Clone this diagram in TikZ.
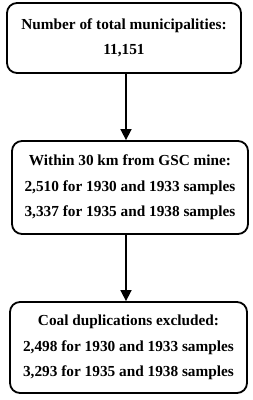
\documentclass[tikz,border=0pt]{standalone}
\usepackage{fontspec}
\setmainfont{Liberation Serif}
\usetikzlibrary{arrows.meta}
\begin{document}
\begin{tikzpicture}[x=1pt,y=1pt,
  box/.style={draw, line width=1.8pt, rounded corners=10pt, align=center,
    font=\fontsize{15.3}{25.5}\selectfont\bfseries, inner sep=0pt},
  arr/.style={line width=1.6pt, -{Triangle[width=11pt,length=11pt]}}]
\useasboundingbox (0,0) rectangle (253,-400);
\node[box, minimum width=234pt, minimum height=70pt] (b1) at (124,-38) {Number of total municipalities:\\11,151};
\node[box, minimum width=236pt, minimum height=93pt] (b2) at (130,-187.5) {Within 30 km from GSC mine:\\2,510 for 1930 and 1933 samples\\3,337 for 1935 and 1938 samples};
\node[box, minimum width=237pt, minimum height=91pt] (b3) at (128.5,-347.5) {Coal duplications excluded:\\2,498 for 1930 and 1933 samples\\3,293 for 1935 and 1938 samples};
\draw[arr] (b1.south -| 126,0) -- (b2.north -| 126,0);
\draw[arr] (b2.south -| 126,0) -- (b3.north -| 126,0);
\end{tikzpicture}
\end{document}
